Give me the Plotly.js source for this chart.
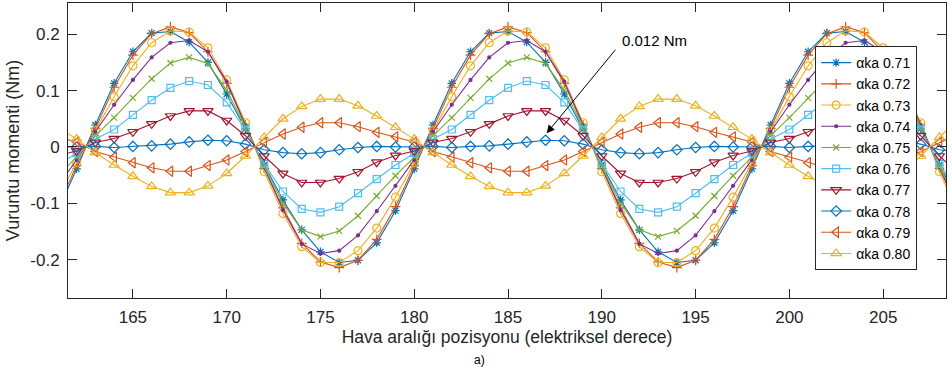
<!DOCTYPE html>
<html>
<head>
<meta charset="utf-8">
<script src="https://cdn.plot.ly/plotly-3.0.1.min.js"></script>
<style>
html,body{margin:0;padding:0;background:#fff;}
#chart{width:952px;height:367px;}
</style>
</head>
<body>
<div id="chart"></div>
<script>
// Air-gap position (electrical degrees)
const xDeg = [161,162,163,164,165,166,167,168,169,170,171,172,173,174,175,176,177,178,179,180,
  181,182,183,184,185,186,187,188,189,190,191,192,193,194,195,196,197,198,199,200,
  201,202,203,204,205,206,207,208,209];

const seriesNames = ['αka 0.71','αka 0.72','αka 0.73','αka 0.74','αka 0.75','αka 0.76','αka 0.77','αka 0.78','αka 0.79','αka 0.80'];

// Cogging torque (Nm)
const t071 = [-0.113,-0.039,
  0.039,0.113,0.169,0.202,0.205,0.186,0.150,0.094,0.032,-0.032,-0.094,-0.147,-0.186,-0.205,-0.201,-0.170,-0.113,-0.039,
  0.039,0.113,0.169,0.202,0.205,0.186,0.150,0.094,0.032,-0.032,-0.094,-0.147,-0.186,-0.205,-0.201,-0.170,-0.113,-0.039,
  0.039,0.113,0.169,0.202,0.205,0.186,0.150,0.094,0.032,-0.032,-0.094];
const t072 = [-0.106,-0.033,
  0.033,0.106,0.163,0.201,0.213,0.203,0.169,0.113,0.039,-0.038,-0.108,-0.171,-0.204,-0.214,-0.201,-0.164,-0.106,-0.033,
  0.033,0.106,0.163,0.201,0.213,0.203,0.169,0.113,0.039,-0.038,-0.108,-0.171,-0.204,-0.214,-0.201,-0.164,-0.106,-0.033,
  0.033,0.106,0.163,0.201,0.213,0.203,0.169,0.113,0.039,-0.038,-0.108];
const t073 = [-0.089,-0.028,
  0.029,0.089,0.144,0.185,0.206,0.204,0.176,0.119,0.043,-0.044,-0.118,-0.177,-0.205,-0.205,-0.184,-0.144,-0.089,-0.028,
  0.029,0.089,0.144,0.185,0.206,0.204,0.176,0.119,0.043,-0.044,-0.118,-0.177,-0.205,-0.205,-0.184,-0.144,-0.089,-0.028,
  0.029,0.089,0.144,0.185,0.206,0.204,0.176,0.119,0.043,-0.044,-0.118];
const t074 = [-0.069,-0.023,
  0.027,0.075,0.119,0.159,0.185,0.189,0.169,0.116,0.039,-0.036,-0.112,-0.172,-0.189,-0.184,-0.157,-0.114,-0.069,-0.023,
  0.027,0.075,0.119,0.159,0.185,0.189,0.169,0.116,0.039,-0.036,-0.112,-0.172,-0.189,-0.184,-0.157,-0.114,-0.069,-0.023,
  0.027,0.075,0.119,0.159,0.185,0.189,0.169,0.116,0.039,-0.036,-0.112];
const t075 = [-0.051,-0.018,
  0.020,0.052,0.087,0.121,0.149,0.159,0.148,0.101,0.036,-0.035,-0.100,-0.147,-0.159,-0.149,-0.122,-0.087,-0.051,-0.018,
  0.020,0.052,0.087,0.121,0.149,0.159,0.148,0.101,0.036,-0.035,-0.100,-0.147,-0.159,-0.149,-0.122,-0.087,-0.051,-0.018,
  0.020,0.052,0.087,0.121,0.149,0.159,0.148,0.101,0.036,-0.035,-0.100];
const t076 = [-0.032,-0.011,
  0.014,0.031,0.057,0.083,0.105,0.117,0.110,0.079,0.030,-0.030,-0.079,-0.110,-0.116,-0.106,-0.082,-0.057,-0.032,-0.011,
  0.014,0.031,0.057,0.083,0.105,0.117,0.110,0.079,0.030,-0.030,-0.079,-0.110,-0.116,-0.106,-0.082,-0.057,-0.032,-0.011,
  0.014,0.031,0.057,0.083,0.105,0.117,0.110,0.079,0.030,-0.030,-0.079];
const t077 = [-0.015,-0.007,
  0.008,0.015,0.027,0.041,0.055,0.064,0.064,0.047,0.020,-0.016,-0.047,-0.063,-0.063,-0.056,-0.044,-0.027,-0.015,-0.007,
  0.008,0.015,0.027,0.041,0.055,0.064,0.064,0.047,0.020,-0.016,-0.047,-0.063,-0.063,-0.056,-0.044,-0.027,-0.015,-0.007,
  0.008,0.015,0.027,0.041,0.055,0.064,0.064,0.047,0.020,-0.016,-0.047];
const t078 = [0.000,0.000,
  0.001,-0.001,0.001,0.002,0.005,0.009,0.012,0.011,0.005,-0.005,-0.010,-0.012,-0.010,-0.005,-0.001,0.001,0.000,0.000,
  0.001,-0.001,0.001,0.002,0.005,0.009,0.012,0.011,0.005,-0.005,-0.010,-0.012,-0.010,-0.005,-0.001,0.001,0.000,0.000,
  0.001,-0.001,0.001,0.002,0.005,0.009,0.012,0.011,0.005,-0.005,-0.010];
const t079 = [0.018,0.009,
  -0.008,-0.018,-0.028,-0.037,-0.043,-0.043,-0.033,-0.023,-0.008,0.008,0.023,0.035,0.043,0.043,0.036,0.026,0.018,0.009,
  -0.008,-0.018,-0.028,-0.037,-0.043,-0.043,-0.033,-0.023,-0.008,0.008,0.023,0.035,0.043,0.043,0.036,0.026,0.018,0.009,
  -0.008,-0.018,-0.028,-0.037,-0.043,-0.043,-0.033,-0.023,-0.008,0.008,0.023];
const t080 = [0.035,0.014,
  -0.010,-0.032,-0.052,-0.070,-0.081,-0.081,-0.069,-0.047,-0.016,0.017,0.050,0.072,0.085,0.085,0.073,0.055,0.035,0.014,
  -0.010,-0.032,-0.052,-0.070,-0.081,-0.081,-0.069,-0.047,-0.016,0.017,0.050,0.072,0.085,0.085,0.073,0.055,0.035,0.014,
  -0.010,-0.032,-0.052,-0.070,-0.081,-0.081,-0.069,-0.047,-0.016,0.017,0.050];

const xTicks = [165,170,175,180,185,190,195,200,205];
const yTicks = [-0.2,-0.1,0,0.1,0.2];
const yTickText = ['-0.2','-0.1','0','0.1','0.2'];

const seriesValues = [t071,t072,t073,t074,t075,t076,t077,t078,t079,t080];
const colors = ['#0072BD','#D95319','#EDB120','#7E2F8E','#77AC30','#4DBEEE','#A2142F','#0072BD','#D95319','#EDB120'];
const symbols = ['asterisk-open','cross-thin-open','circle-open','circle','x-thin-open','square-open','triangle-down-open','diamond-open','triangle-left-open','triangle-up-open'];
const sizes = [7,7,8,3,6,7,9,8,9,9];

const traces = seriesValues.map((vals,i)=>({
  x: xDeg, y: vals, type:'scatter', mode:'lines+markers', name: seriesNames[i],
  line:{color:colors[i], width:1.1},
  marker:{symbol:symbols[i], size:sizes[i], color:colors[i], line:{color:colors[i], width:1.2}},
  cliponaxis: true
}));

const FONT = 'Liberation Sans, Arial, Helvetica, sans-serif';
const layout = {
  width:952, height:367,
  margin:{l:68, r:6, t:3, b:69},
  paper_bgcolor:'#fff', plot_bgcolor:'#fff',
  font:{family:FONT, color:'#262626'},
  showlegend:true,
  legend:{x:0.851, y:0.854, xanchor:'left', yanchor:'top',
    bgcolor:'#fff', bordercolor:'#262626', borderwidth:1,
    font:{family:FONT, size:14, color:'#000'}, tracegroupgap:0, itemwidth:30},
  xaxis:{range:[161.54,208.35], tickvals:xTicks, ticks:'inside', ticklen:9, tickcolor:'#262626',
    showline:true, linecolor:'#262626', linewidth:1, mirror:'ticks', showgrid:false, zeroline:false,
    tickfont:{size:17, color:'#262626'}, ticklabelstandoff:4,
    title:{text:'Hava aralığı pozisyonu (elektriksel derece)', font:{size:17.5, color:'#262626'}, standoff:4}},
  yaxis:{range:[-0.268,0.2555], tickvals:yTicks, ticktext:yTickText, ticks:'inside', ticklen:9, tickcolor:'#262626',
    showline:true, linecolor:'#262626', linewidth:1, mirror:'ticks', showgrid:false, zeroline:false,
    tickfont:{size:17, color:'#262626'}, ticklabelstandoff:4,
    title:{text:'Vuruntu momenti (Nm)', font:{size:18, color:'#262626'}, standoff:6}},
  annotations:[
    {x:187.06, y:0.0243, xref:'x', yref:'y', text:'', showarrow:true, ax:70, ay:-85,
     arrowhead:2, arrowsize:1.6, arrowwidth:1, arrowcolor:'#000'},
    {x:192.81, y:0.189, xref:'x', yref:'y', text:'0.012 Nm', showarrow:false,
     font:{family:FONT, size:15, color:'#000'}},
    {x:0.469, y:-0.1814, xref:'paper', yref:'paper', yanchor:'top', text:'a)', showarrow:false,
     font:{family:FONT, size:12, color:'#000'}, borderpad:0}
  ]
};

Plotly.newPlot('chart', traces, layout, {displayModeBar:false, staticPlot:true});
</script>
</body>
</html>
